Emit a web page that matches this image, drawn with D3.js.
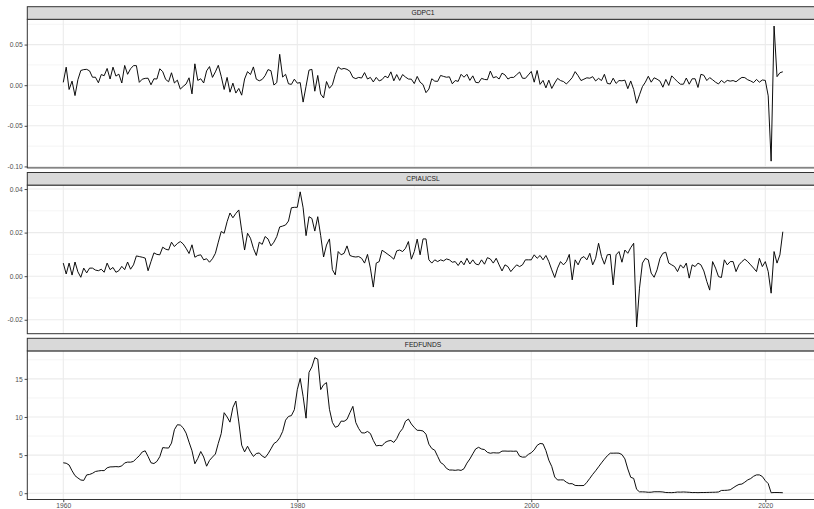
<!DOCTYPE html>
<html>
<head>
<meta charset="utf-8">
<script src="https://cdn.jsdelivr.net/npm/d3@7"></script>
<style>
  html, body { margin: 0; padding: 0; background: #ffffff; }
  svg { display: block; opacity: 0.999; }
</style>
</head>
<body>
<svg id="chart" width="814" height="509"></svg>
<script>
// Quarterly series, first observation 1959Q4, last 2021Q2.
// GDPC1 and CPIAUCSL are quarter-on-quarter log changes, FEDFUNDS is the quarterly mean (%).
const gdpc1 = [0.0035,
  0.0222,-0.0053,0.0050,-0.0128,  0.0067,0.0181,0.0192,0.0195,  0.0176,0.0098,0.0098,0.0030,
  0.0131,0.0117,0.0206,0.0076,  0.0222,0.0112,0.0136,0.0027,  0.0243,0.0134,0.0202,0.0241,
  0.0241,0.0035,0.0074,0.0084,  0.0086,0.0005,0.0079,0.0076,  0.0202,0.0167,0.0071,0.0042,
  0.0153,0.0027,0.0062,-0.0048,
  -0.0015,0.0015,0.0091,-0.0107,  0.0263,0.0059,0.0079,0.0027,  0.0176,0.0229,0.0096,0.0164,
  0.0245,0.0110,-0.0053,0.0096,  -0.0086,0.0025,-0.0097,-0.0040,  -0.0123,0.0076,0.0167,0.0131,
  0.0225,0.0074,0.0054,0.0071,  0.0117,0.0192,0.0178,0.0002,  0.0032,0.0380,0.0100,0.0134,
  0.0017,0.0010,0.0074,0.0025,
  0.0032,-0.0208,-0.0013,0.0185,  0.0195,-0.0074,0.0120,-0.0110,  -0.0157,0.0045,-0.0038,0.0005,
  0.0131,0.0225,0.0197,0.0206,  0.0195,0.0171,0.0096,0.0081,  0.0096,0.0088,0.0155,0.0076,
  0.0096,0.0040,0.0096,0.0052,  0.0069,0.0112,0.0091,0.0164,  0.0054,0.0131,0.0059,0.0131,
  0.0100,0.0076,0.0074,0.0020,
  0.0108,0.0037,0.0007,-0.0092,  -0.0048,0.0079,0.0050,0.0047,  0.0120,0.0108,0.0098,0.0103,
  0.0017,0.0057,0.0047,0.0134,  0.0098,0.0134,0.0059,0.0115,  0.0035,0.0030,0.0084,0.0071,
  0.0067,0.0174,0.0091,0.0105,  0.0076,0.0148,0.0127,0.0076,  0.0096,0.0096,0.0129,0.0162,
  0.0086,0.0084,0.0127,0.0169,
  0.0037,0.0181,0.0010,0.0059,  -0.0033,0.0062,-0.0040,0.0027,  0.0084,0.0057,0.0045,0.0015,
  0.0052,0.0093,0.0167,0.0117,  0.0057,0.0074,0.0091,0.0086,  0.0105,0.0052,0.0084,0.0057,
  0.0134,0.0022,0.0015,0.0086,  0.0022,0.0057,0.0054,0.0062,  -0.0043,0.0052,-0.0053,-0.0222,
  -0.0118,-0.0018,0.0037,0.0110,
  0.0037,0.0091,0.0074,0.0050,  -0.0025,0.0071,-0.0003,0.0115,  0.0079,0.0042,0.0012,0.0012,
  0.0088,0.0012,0.0079,0.0079,  -0.0028,0.0134,0.0122,0.0057,  0.0093,0.0067,0.0037,0.0015,
  0.0059,0.0030,0.0059,0.0050,  0.0057,0.0042,0.0071,0.0096,  0.0093,0.0067,0.0052,0.0032,
  0.0071,0.0037,0.0064,0.0059,
  -0.0131,-0.0935,0.0728,0.0105,  0.0153,0.0165];

const cpiaucsl = [
  0.006,0.001,0.006,0.0005,0.0065,0.002,-0.0005,0.0037,0.0015,0.0037,
  0.0037,0.0028,0.0025,0.0032,0.0018,0.006,0.003,0.004,0.0018,0.0025,
  0.0045,0.003,0.0065,0.0032,0.0052,0.0093,0.009,0.0087,0.0083,0.0025,
  0.0067,0.0107,0.01,0.0098,0.0133,0.0124,0.012,0.0156,0.0136,0.015,
  0.0159,0.0148,0.0128,0.0104,0.0144,0.0087,0.0095,0.0098,0.0075,0.008,
  0.0064,0.008,0.0105,0.0156,0.0205,0.0197,0.025,0.029,0.0268,0.0288,
  0.0304,0.021,0.012,0.0197,0.0174,0.0128,0.0095,0.0156,0.0146,0.0182,
  0.0171,0.0139,0.0156,0.0182,0.0226,0.023,0.0235,0.0253,0.0314,0.0316,
  0.0316,0.0387,0.0314,0.0186,0.0273,0.0265,0.0207,0.0273,0.0186,0.0088,
  0.0143,0.0171,0.003,0.0006,0.0113,0.0098,0.0105,0.0139,0.0095,0.009,
  0.0088,0.009,0.0082,0.006,0.01,0.0037,-0.005,0.006,0.0067,0.0119,
  0.011,0.01,0.009,0.0078,0.0116,0.012,0.0113,0.0128,0.0159,0.0078,
  0.0113,0.017,0.0098,0.0171,0.0171,0.0075,0.006,0.0075,0.0067,0.0075,
  0.007,0.0079,0.0075,0.0064,0.0067,0.0049,0.007,0.0052,0.0082,0.0056,
  0.0075,0.0056,0.0052,0.0075,0.0055,0.0085,0.0079,0.006,0.0082,0.0052,
  0.0024,0.0052,0.0044,0.0021,0.0037,0.0052,0.0044,0.0052,0.0075,0.0075,
  0.0075,0.0098,0.0082,0.0095,0.0075,0.0095,0.0067,0.0029,-0.0006,0.0037,
  0.0067,0.0052,0.0067,0.01,-0.0017,0.0075,0.0052,0.0082,0.009,0.0075,
  0.0105,0.0052,0.0082,0.0151,0.009,0.0055,0.0098,0.01,-0.004,0.0098,
  0.0113,0.0064,0.012,0.0105,0.0131,0.0151,-0.0233,-0.0055,0.006,0.0082,
  0.0075,0.0014,-0.0005,0.0029,0.0082,0.0105,0.011,0.006,0.0052,0.0044,
  0.0021,0.0052,0.0037,0.006,-0.0009,0.0052,0.0044,0.006,0.0052,0.0024,
  -0.0024,-0.0064,0.0067,0.0037,-0.0002,-0.0006,0.0075,0.0052,0.0067,0.0067,
  0.0021,0.0052,0.0067,0.0078,0.0067,0.0052,0.0037,0.0021,0.0082,0.0044,
  0.0067,0.0021,-0.0078,0.0113,0.006,0.0098,0.0204];

const fedfunds = [3.99,
  3.93,3.70,2.94,2.30,  2.00,1.73,1.68,2.40,  2.46,2.61,2.85,2.92,  2.97,2.96,3.33,3.45,
  3.46,3.49,3.46,3.58,  3.97,4.08,4.07,4.17,  4.56,4.91,5.41,5.56,  4.82,3.99,3.89,4.17,
  4.79,5.98,5.94,5.92,  6.57,8.33,8.98,8.94,
  8.57,7.88,6.70,5.57,  3.86,4.56,5.47,4.75,  3.54,4.30,4.74,5.14,  6.54,7.82,10.56,10.00,
  9.32,11.25,12.09,9.35,  6.30,5.42,6.16,5.41,  4.83,5.20,5.28,4.87,  4.66,5.16,5.82,6.51,
  6.76,7.28,8.10,9.58,  10.07,10.18,10.95,13.58,
  15.05,12.69,9.84,15.85,  16.57,17.78,17.58,13.59,  14.23,14.51,11.01,9.29,  8.65,8.80,9.46,9.43,
  9.69,10.56,11.39,9.27,  8.48,7.92,7.90,8.10,  7.83,6.92,6.21,6.27,  6.22,6.65,6.84,6.92,
  6.66,7.16,7.98,8.47,  9.44,9.73,9.08,8.61,
  8.25,8.24,8.16,7.74,  6.43,5.86,5.64,4.82,  4.02,3.77,3.26,3.04,  3.04,3.00,3.06,2.99,
  3.21,3.94,4.49,5.17,  5.81,6.02,5.80,5.72,  5.36,5.24,5.31,5.28,  5.28,5.52,5.53,5.51,
  5.52,5.50,5.53,4.86,  4.73,4.75,5.09,5.31,
  5.68,6.27,6.52,6.47,  5.59,4.33,3.50,2.13,  1.73,1.75,1.74,1.44,  1.25,1.25,1.02,1.00,
  1.00,1.01,1.43,1.95,  2.47,2.94,3.46,3.98,  4.46,4.91,5.25,5.25,  5.26,5.25,5.07,4.50,
  3.18,2.09,1.94,0.51,  0.18,0.18,0.16,0.12,
  0.13,0.19,0.19,0.19,  0.16,0.09,0.08,0.07,  0.10,0.15,0.14,0.16,  0.14,0.12,0.08,0.09,
  0.07,0.09,0.09,0.10,  0.11,0.12,0.13,0.16,  0.36,0.37,0.39,0.45,  0.70,0.95,1.15,1.20,
  1.45,1.74,1.92,2.22,  2.40,2.40,2.19,1.64,
  1.26,0.06,0.09,0.09,  0.08,0.06];

const seriesNames = ["GDPC1", "CPIAUCSL", "FEDFUNDS"];
const xMajorYears = [1960, 1980, 2000, 2020];
const xMinorYears = [1970, 1990, 2010];
const gdpTicks = [-0.10, -0.05, 0.00, 0.05];
const cpiTicks = [-0.02, 0.00, 0.02, 0.04];
const fedTicks = [0, 5, 10, 15];

// Each observation is stamped at the close of its quarter (1959Q4 -> 1960-01-01).
const dates = gdpc1.map((_, i) => new Date(1960, 3 * i, 1));

[gdpc1, cpiaucsl, fedfunds].forEach((s, k) => {
  if (s.length !== dates.length) console.error(seriesNames[k] + " length " + s.length);
});

const facets = [
  { name: seriesNames[0], values: gdpc1,    ticks: gdpTicks, fmt: d3.format(".2f") },
  { name: seriesNames[1], values: cpiaucsl, ticks: cpiTicks, fmt: d3.format(".2f") },
  { name: seriesNames[2], values: fedfunds, ticks: fedTicks, fmt: d3.format("d") }
];

// ---- layout (facet_wrap, one column, free y) ----
const left = 27.3, right = 818.8;
const stripH = 12.6, panelH = 148.6;
const rowTops = [6.7, 172.5, 338.3];
const fontFamily = "'Liberation Sans', Arial, Helvetica, sans-serif";
const fontSize = 6.7;
const dark = "#333333", gridCol = "#EBEBEB";

const svg = d3.select("#chart");
svg.append("rect").attr("width", 814).attr("height", 509).attr("fill", "#ffffff");

// x: data range expanded by 5% on each side
const [t0, t1] = d3.extent(dates);
const xpad = (t1 - t0) * 0.05;
const x = d3.scaleTime()
  .domain([new Date(+t0 - xpad), new Date(+t1 + xpad)])
  .range([left, right]);
const yearDate = y => new Date(y, 0, 1);

// minor breaks sit halfway between the major ones
function minorBreaks(ticks, domain) {
  const step = ticks[1] - ticks[0];
  const out = [];
  for (let v = ticks[0] - step / 2; v <= ticks[ticks.length - 1] + step; v += step) {
    if (v > domain[0] && v < domain[1]) out.push(v);
  }
  return out;
}

const line = d3.line();

facets.forEach((f, k) => {
  const stripTop = rowTops[k];
  const top = stripTop + stripH;
  const bottom = top + panelH;

  const [lo, hi] = d3.extent(f.values);
  const ypad = (hi - lo) * 0.05;
  const y = d3.scaleLinear().domain([lo - ypad, hi + ypad]).range([bottom, top]);

  const g = svg.append("g");

  // panel background
  g.append("rect").attr("x", left).attr("y", top)
    .attr("width", right - left).attr("height", panelH).attr("fill", "#ffffff");

  // minor grid
  g.append("g").selectAll("line").data(minorBreaks(f.ticks, y.domain())).join("line")
    .attr("x1", left).attr("x2", right).attr("y1", d => y(d)).attr("y2", d => y(d))
    .attr("stroke", gridCol).attr("stroke-width", 0.55);
  g.append("g").selectAll("line").data(xMinorYears).join("line")
    .attr("x1", d => x(yearDate(d))).attr("x2", d => x(yearDate(d)))
    .attr("y1", top).attr("y2", bottom)
    .attr("stroke", gridCol).attr("stroke-width", 0.55);

  // major grid
  g.append("g").selectAll("line").data(f.ticks).join("line")
    .attr("x1", left).attr("x2", right).attr("y1", d => y(d)).attr("y2", d => y(d))
    .attr("stroke", gridCol).attr("stroke-width", 1.1);
  g.append("g").selectAll("line").data(xMajorYears).join("line")
    .attr("x1", d => x(yearDate(d))).attr("x2", d => x(yearDate(d)))
    .attr("y1", top).attr("y2", bottom)
    .attr("stroke", gridCol).attr("stroke-width", 1.1);

  // series
  g.append("path")
    .attr("d", line(f.values.map((v, i) => [x(dates[i]), y(v)])))
    .attr("fill", "none").attr("stroke", "#000000")
    .attr("stroke-width", 0.95).attr("stroke-linejoin", "round");

  // panel border
  g.append("rect").attr("x", left).attr("y", top)
    .attr("width", right - left).attr("height", panelH)
    .attr("fill", "none").attr("stroke", dark).attr("stroke-width", 1);

  // strip
  g.append("rect").attr("x", left).attr("y", stripTop)
    .attr("width", right - left).attr("height", stripH)
    .attr("fill", "#D9D9D9").attr("stroke", dark).attr("stroke-width", 1);
  g.append("text")
    .attr("x", (left + right) / 2).attr("y", stripTop + stripH / 2 + fontSize * 0.35)
    .attr("text-anchor", "middle")
    .attr("font-family", fontFamily).attr("font-size", fontSize)
    .attr("fill", "#1A1A1A").text(f.name);

  // y axis
  const yAxis = d3.axisLeft(y).tickValues(f.ticks)
    .tickFormat(d => f.fmt(d).replace("\u2212", "-"))
    .tickSize(2.7).tickSizeOuter(0).tickPadding(1.8);
  const ya = g.append("g").attr("transform", `translate(${left},0)`).call(yAxis);
  ya.select(".domain").remove();
  ya.selectAll(".tick line").attr("stroke", dark).attr("stroke-width", 0.9);
  ya.selectAll(".tick text").attr("fill", "#4D4D4D")
    .attr("font-family", fontFamily).attr("font-size", fontSize);

  // x axis on the bottom panel only
  if (k === facets.length - 1) {
    const xAxis = d3.axisBottom(x).tickValues(xMajorYears.map(yearDate))
      .tickFormat(d3.timeFormat("%Y"))
      .tickSize(2.7).tickSizeOuter(0).tickPadding(1.2);
    const xa = g.append("g").attr("transform", `translate(0,${bottom})`).call(xAxis);
    xa.select(".domain").remove();
    xa.selectAll(".tick line").attr("stroke", dark).attr("stroke-width", 0.9);
    xa.selectAll(".tick text").attr("fill", "#4D4D4D")
      .attr("font-family", fontFamily).attr("font-size", fontSize);
  }
});
</script>
</body>
</html>
